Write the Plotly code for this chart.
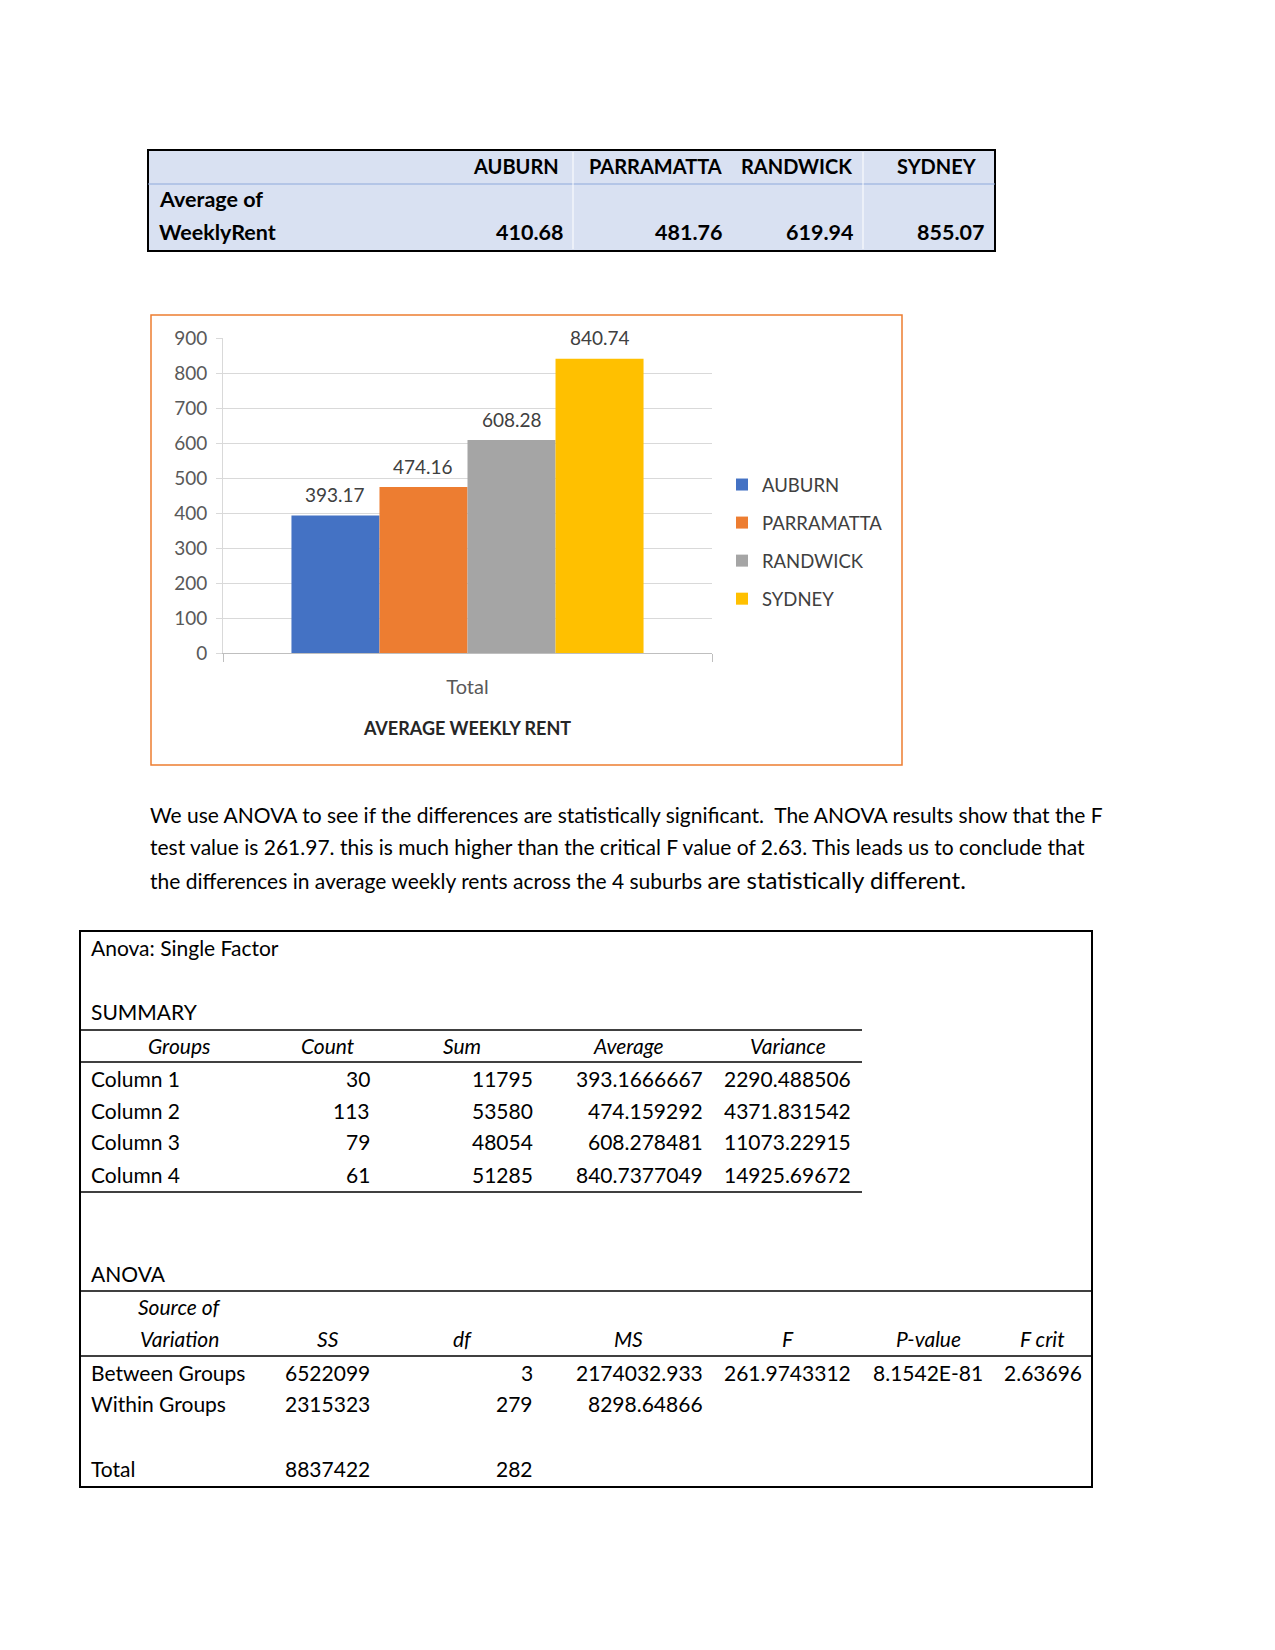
import plotly.graph_objects as go

# page is photographed at 1275x1650, browser body adds an 8px margin
OFF = 8
W, H = 1275 - OFF, 1650 - OFF

# ---- data ----
suburbs = ["AUBURN", "PARRAMATTA", "RANDWICK", "SYDNEY"]
avg_weekly_rent = ["410.68", "481.76", "619.94", "855.07"]
chart_means = [393.17, 474.16, 608.28, 840.74]
chart_category = ["Total"]
bar_colors = ["#4472C4", "#ED7D31", "#A5A5A5", "#FFC000"]
y_ticks = [0, 100, 200, 300, 400, 500, 600, 700, 800, 900]

paragraph_lines = [
    "We use ANOVA to see if the differences are statistically significant.  The ANOVA results show that the F",
    "test value is 261.97. this is much higher than the critical F value of 2.63. This leads us to conclude that",
    "the differences in average weekly rents across the 4 suburbs <span style='font-size:24px'>are statistically different.</span>",
]

summary_header = ["Groups", "Count", "Sum", "Average", "Variance"]
summary_groups = ["Column 1", "Column 2", "Column 3", "Column 4"]
summary_count = ["30", "113", "79", "61"]
summary_sum = ["11795", "53580", "48054", "51285"]
summary_avg = ["393.1666667", "474.159292", "608.278481", "840.7377049"]
summary_var = ["2290.488506", "4371.831542", "11073.22915", "14925.69672"]

anova_header = ["SS", "df", "MS", "F", "P-value", "F crit"]
anova_sources = ["Between Groups", "Within Groups", "", "Total"]
anova_ss = ["6522099", "2315323", "", "8837422"]
anova_df = ["3", "279", "", "282"]
anova_ms = ["2174032.933", "8298.64866", "", ""]
anova_f = ["261.9743312", "", "", ""]
anova_p = ["8.1542E-81", "", "", ""]
anova_fcrit = ["2.63696", "", "", ""]

DOC_SIZE = 21
CHART_SIZE = 19
BARGAP = 0.28


def fx(x):
    return (x - OFF) / W


def fy(y):
    return 1 - (y - OFF) / H


annotations = []
shapes = []


def text(x, y, s, anchor="left", size=DOC_SIZE, bold=False, italic=False, color="#000000"):
    annotations.append(dict(
        xref="paper", yref="paper", x=fx(x), y=fy(y), text=s, showarrow=False,
        xanchor=anchor, yanchor="middle",
        font=dict(family="Lato", size=size, color=color,
                  weight="bold" if bold else "normal",
                  style="italic" if italic else "normal"),
    ))


def rect(x0, y0, x1, y1, color="#000000", width=2, fill=None):
    shapes.append(dict(type="rect", xref="paper", yref="paper",
                       x0=fx(x0), y0=fy(y0), x1=fx(x1), y1=fy(y1),
                       line=dict(color=color, width=width),
                       fillcolor=fill or "rgba(0,0,0,0)", layer="below"))


def hline(x0, x1, y, color="#000000", width=1.5):
    shapes.append(dict(type="line", xref="paper", yref="paper",
                       x0=fx(x0), x1=fx(x1), y0=fy(y), y1=fy(y),
                       line=dict(color=color, width=width)))


def vline(x, y0, y1, color="#FFFFFF", width=1):
    shapes.append(dict(type="line", xref="paper", yref="paper",
                       x0=fx(x), x1=fx(x), y0=fy(y0), y1=fy(y1),
                       line=dict(color=color, width=width)))


# ---- pivot table at the top ----
rect(148, 150, 995, 251, fill="#D9E1F2")
hline(148, 995, 184, color="#8EA9DB", width=1)
vline(573, 152, 249)
vline(863, 152, 249)
head_right = [561, 724, 854, 979]
val_right = [565, 724, 855, 986]
for xh, xv, name, val in zip(head_right, val_right, suburbs, avg_weekly_rent):
    text(xh, 166, name, anchor="right", size=20, bold=True)
    text(xv, 232, val, anchor="right", size=21.5, bold=True)
text(157, 199, "Average of", size=21.5, bold=True)
text(157, 232, "WeeklyRent", size=21.5, bold=True)

# ---- chart ----
fig = go.Figure()
n = len(suburbs)
bar_w = (1 - BARGAP) / n
for i, (name, val, col) in enumerate(zip(suburbs, chart_means, bar_colors)):
    fig.add_trace(go.Bar(
        x=chart_category, y=[val], name=name, legendgroup=name,
        marker=dict(color=col, line=dict(width=0)),
    ))
    # data label above each bar, placed through the axes
    annotations.append(dict(
        xref="x", yref="y", x=-(1 - BARGAP) / 2 + bar_w * (i + 0.5), y=val,
        text=f"{val:.2f}", showarrow=False, xanchor="center", yanchor="middle",
        yshift=21, font=dict(family="Lato", size=CHART_SIZE, color="#404040"),
    ))

rect(151, 315, 902, 765, color="#ED7D31", width=1.5)

# ---- paragraph ----
for i, line in enumerate(paragraph_lines):
    text(148, 814 + i * 32.7, line)

# ---- ANOVA output ----
rect(80, 931, 1092, 1487)
text(89, 947, "Anova: Single Factor")
text(89, 1011, "SUMMARY")
hline(80, 862, 1030)
hline(80, 862, 1062)
hline(80, 862, 1192)
sum_centers = [179, 328, 462, 628, 788]
sum_rights = [372, 535, 705, 853]
for xc, h in zip(sum_centers, summary_header):
    text(xc, 1045, h, anchor="center", italic=True)
row_y = [1078, 1110, 1141.5, 1174]
for i, y in enumerate(row_y):
    text(89, y, summary_groups[i])
    for xr, col in zip(sum_rights, [summary_count, summary_sum, summary_avg, summary_var]):
        text(xr, y, col[i], anchor="right")

text(89, 1273, "ANOVA")
hline(80, 1092, 1291)
hline(80, 1092, 1356)
text(179, 1306.5, "Source of", anchor="center", italic=True)
text(179, 1338, "Variation", anchor="center", italic=True)
an_centers = [328, 462, 628, 788, 928, 1042]
an_rights = [372, 535, 705, 853, 985, 1084]
for xc, h in zip(an_centers, anova_header):
    text(xc, 1338, h, anchor="center", italic=True)
an_y = [1372, 1403, 1436, 1468.5]
for i, y in enumerate(an_y):
    if anova_sources[i]:
        text(89, y, anova_sources[i])
    for xr, col in zip(an_rights, [anova_ss, anova_df, anova_ms, anova_f, anova_p, anova_fcrit]):
        if col[i]:
            text(xr, y, col[i], anchor="right")

fig.update_layout(
    width=W, height=H,
    margin=dict(l=0, r=0, t=0, b=0),
    paper_bgcolor="white", plot_bgcolor="white",
    barmode="group", bargap=BARGAP, bargroupgap=0,
    font=dict(family="Lato", color="#404040"),
    showlegend=True,
    legend=dict(
        x=fx(722), y=fy(466), xanchor="left", yanchor="top",
        font=dict(family="Lato", size=18.5, color="#404040"),
        tracegroupgap=11, bgcolor="rgba(0,0,0,0)",
    ),
    xaxis=dict(
        domain=[fx(223), fx(712)], type="category", range=[-0.5, 0.5],
        tickson="boundaries", ticks="outside", ticklen=8, tickcolor="#BFBFBF",
        showline=True, linecolor="#BFBFBF", linewidth=1, showgrid=False,
        tickfont=dict(family="Lato", size=20, color="#595959"),
        ticklabelstandoff=16,
        title=dict(text="<b>AVERAGE WEEKLY RENT</b>", standoff=25,
                   font=dict(family="Lato", size=18, color="#262626")),
        automargin=False,
    ),
    yaxis=dict(
        domain=[fy(653), fy(338)], range=[0, 900], tickvals=y_ticks,
        showgrid=True, gridcolor="#D9D9D9", gridwidth=1,
        zeroline=False, showline=True, linecolor="#D9D9D9",
        ticks="outside", ticklen=6, tickcolor="#D9D9D9",
        tickfont=dict(family="Lato", size=CHART_SIZE, color="#595959"),
        ticklabelstandoff=5, automargin=False,
    ),
    annotations=annotations,
    shapes=shapes,
)

fig.write_html("out.html")
